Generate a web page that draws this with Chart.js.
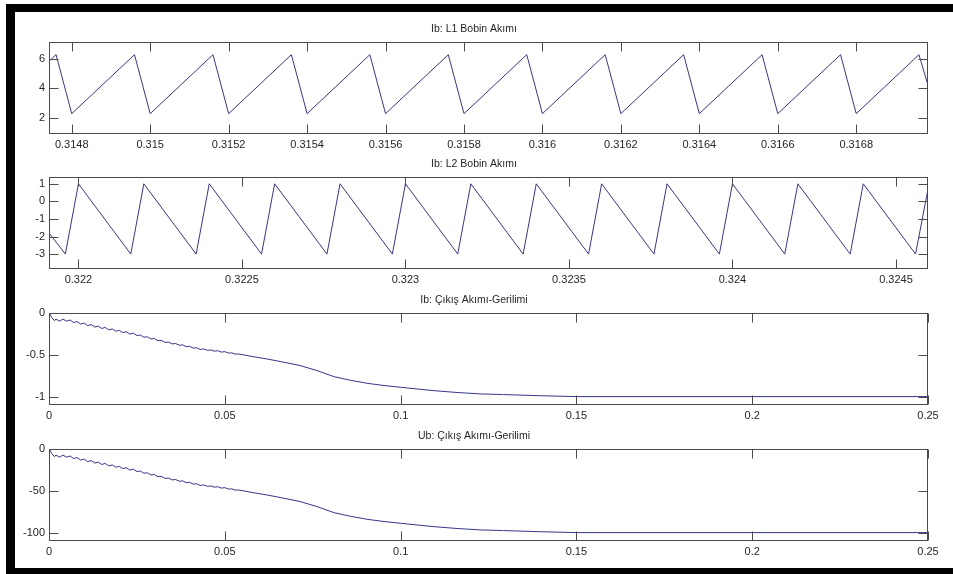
<!DOCTYPE html>
<html>
<head>
<meta charset="utf-8">
<script src="https://cdn.jsdelivr.net/npm/chart.js@4/dist/chart.umd.min.js"></script>
<style>
  html, body { margin: 0; padding: 0; background: #fff; overflow: hidden; }
  body { width: 953px; height: 574px; position: relative; }
  .frame { position: absolute; background: #000; }
  .plot { position: absolute; left: 20px; width: 937px; height: 133px; }
</style>
</head>
<body>
<div class="frame" style="left:6px;top:4px;width:947px;height:8px"></div>
<div class="frame" style="left:6px;top:4px;width:9px;height:570px"></div>
<div class="frame" style="left:6px;top:568px;width:947px;height:6px"></div>

<div class="plot" style="top:21px"><canvas id="c1" width="937" height="133"></canvas></div>
<div class="plot" style="top:156px"><canvas id="c2" width="937" height="133"></canvas></div>
<div class="plot" style="top:292px"><canvas id="c3" width="937" height="133"></canvas></div>
<div class="plot" style="top:428px"><canvas id="c4" width="937" height="133"></canvas></div>

<script>
// L1 coil current: sawtooth vertices (time in s, current in A)
const l1Time = [0.314742, 0.31476, 0.3148, 0.31496, 0.315, 0.31516, 0.3152, 0.31536, 0.3154,
  0.31556, 0.3156, 0.31576, 0.3158, 0.31596, 0.316, 0.31616, 0.3162, 0.31636, 0.3164,
  0.31656, 0.3166, 0.31676, 0.3168, 0.31696, 0.316983];
const l1Current = [5.82, 6.27, 2.3, 6.27, 2.3, 6.27, 2.3, 6.27, 2.3,
  6.27, 2.3, 6.27, 2.3, 6.27, 2.3, 6.27, 2.3, 6.27, 2.3,
  6.27, 2.3, 6.27, 2.3, 6.27, 4.2];

// L2 coil current
const l2Time = [0.32191, 0.32196, 0.322, 0.32216, 0.3222, 0.32236, 0.3224, 0.32256, 0.3226,
  0.32276, 0.3228, 0.32296, 0.323, 0.32316, 0.3232, 0.32336, 0.3234, 0.32356, 0.3236,
  0.32376, 0.3238, 0.32396, 0.324, 0.32416, 0.3242, 0.32436, 0.3244, 0.32456, 0.324598];
const l2Current = [-1.8, -3, 1, -3, 1, -3, 1, -3, 1,
  -3, 1, -3, 1, -3, 1, -3, 1, -3, 1,
  -3, 1, -3, 1, -3, 1, -3, 1, -3, 0.7];

// Output current and voltage over the start-up transient
const outTime = [0, 0.0008, 0.0015,
  0.002, 0.003, 0.004, 0.005, 0.006, 0.007, 0.008, 0.009, 0.010, 0.011,
  0.012, 0.013, 0.014, 0.015, 0.016, 0.017, 0.018, 0.019, 0.020, 0.021,
  0.022, 0.023, 0.024, 0.025, 0.026, 0.027, 0.028, 0.029, 0.030, 0.031,
  0.032, 0.033, 0.034, 0.035, 0.036, 0.037, 0.038, 0.039, 0.040, 0.041,
  0.042, 0.043, 0.044, 0.045, 0.046, 0.047, 0.048, 0.049, 0.050, 0.051,
  0.052, 0.053, 0.054,
  0.058, 0.062, 0.0667, 0.0714, 0.0762, 0.081, 0.0857, 0.0904, 0.095, 0.1,
  0.1094, 0.116, 0.1227, 0.1293, 0.14, 0.15, 0.25];
const outCurrent = [0, -0.06, -0.095,
  -0.078, -0.102, -0.078, -0.102, -0.088, -0.119, -0.106, -0.137, -0.124, -0.155,
  -0.143, -0.172, -0.161, -0.189, -0.177, -0.206, -0.195, -0.221, -0.212, -0.238,
  -0.228, -0.255, -0.245, -0.273, -0.267, -0.293, -0.288, -0.314, -0.309, -0.335,
  -0.330, -0.355, -0.350, -0.373, -0.367, -0.389, -0.384, -0.405, -0.402, -0.422,
  -0.419, -0.439, -0.432, -0.449, -0.444, -0.459, -0.454, -0.470, -0.465, -0.481,
  -0.480, -0.494, -0.493,
  -0.524, -0.552, -0.59, -0.63, -0.69, -0.762, -0.805, -0.841, -0.867, -0.889,
  -0.929, -0.951, -0.968, -0.976, -0.99, -1.0, -1.0];
const outVoltage = [0, -6, -9.5,
  -7.8, -10.2, -7.8, -10.2, -8.8, -11.9, -10.6, -13.7, -12.4, -15.5,
  -14.3, -17.2, -16.1, -18.9, -17.7, -20.6, -19.5, -22.1, -21.2, -23.8,
  -22.8, -25.5, -24.5, -27.3, -26.7, -29.3, -28.8, -31.4, -30.9, -33.5,
  -33.0, -35.5, -35.0, -37.3, -36.7, -38.9, -38.4, -40.5, -40.2, -42.2,
  -41.9, -43.9, -43.2, -44.9, -44.4, -45.9, -45.4, -47.0, -46.5, -48.1,
  -48.0, -49.4, -49.3,
  -52.4, -55.2, -59, -63, -69, -76.2, -80.5, -84.1, -86.7, -88.9,
  -92.9, -95.1, -96.8, -97.6, -99, -100, -100];

// Axis ticks
const l1XTicks = [0.3148, 0.315, 0.3152, 0.3154, 0.3156, 0.3158, 0.316, 0.3162, 0.3164, 0.3166, 0.3168];
const l1YTicks = [2, 4, 6];
const l2XTicks = [0.322, 0.3225, 0.323, 0.3235, 0.324, 0.3245];
const l2YTicks = [-3, -2, -1, 0, 1];
const outXTicks = [0, 0.05, 0.1, 0.15, 0.2, 0.25];
const currentYTicks = [-1, -0.5, 0];
const voltageYTicks = [-100, -50, 0];

const titles = ['Ib: L1 Bobin Akımı', 'Ib: L2 Bobin Akımı', 'Ib: Çıkış Akımı-Gerilimi', 'Ub: Çıkış Akımı-Gerilimi'];

const LINE = '#36368e';
const AXIS = '#4a4a4a';
const TEXT = '#262626';
const FONT = 'Liberation Sans, Arial, sans-serif';

// MATLAB-style axes box with inward tick marks on all four sides
const boxTicks = {
  id: 'boxTicks',
  afterDatasetsDraw(chart) {
    const { ctx, chartArea: a, scales } = chart;
    const L = Math.round(a.left) + 0.5, R = Math.round(a.right) - 0.5;
    const T = Math.round(a.top) + 0.5, B = Math.round(a.bottom) - 0.5;
    const len = 9;
    ctx.save();
    ctx.strokeStyle = AXIS;
    ctx.lineWidth = 1;
    ctx.beginPath();
    scales.x.ticks.forEach(t => {
      const px = Math.round(scales.x.getPixelForValue(t.value)) + 0.5;
      ctx.moveTo(px, T); ctx.lineTo(px, T + len);
      ctx.moveTo(px, B); ctx.lineTo(px, B - len);
    });
    scales.y.ticks.forEach(t => {
      const py = Math.round(scales.y.getPixelForValue(t.value)) + 0.5;
      ctx.moveTo(L, py); ctx.lineTo(L + len, py);
      ctx.moveTo(R, py); ctx.lineTo(R - len, py);
    });
    ctx.stroke();
    ctx.strokeRect(L, T, R - L, B - T);
    ctx.restore();
  }
};

function makePlot(id, title, xs, ys, xr, yr, xTicks, yTicks) {
  const pts = xs.map((x, i) => ({ x, y: ys[i] }));
  new Chart(document.getElementById(id), {
    type: 'line',
    data: { datasets: [{ data: pts, borderColor: LINE, borderWidth: 1, pointRadius: 0, tension: 0, fill: false }] },
    options: {
      responsive: false,
      animation: false,
      events: [],
      layout: { padding: { left: 0, right: 29, top: 0, bottom: 0 } },
      plugins: {
        legend: { display: false },
        tooltip: { enabled: false },
        title: {
          display: true, text: title, color: TEXT,
          font: { family: FONT, size: 10.5, weight: 'normal' },
          padding: { top: 2, bottom: 6 }
        }
      },
      scales: {
        x: {
          type: 'linear', min: xr[0], max: xr[1],
          grid: { display: false, drawTicks: false }, border: { display: false },
          afterBuildTicks: s => { s.ticks = xTicks.map(v => ({ value: v })); },
          afterFit: s => { s.height = 20; },
          ticks: { padding: 4, maxRotation: 0, autoSkip: false, color: TEXT,
                   font: { family: FONT, size: 11 }, callback: v => String(v) }
        },
        y: {
          type: 'linear', min: yr[0], max: yr[1],
          grid: { display: false, drawTicks: false }, border: { display: false },
          afterBuildTicks: s => { s.ticks = yTicks.map(v => ({ value: v })); },
          afterFit: s => { s.width = 29; },
          ticks: { padding: 4, autoSkip: false, color: TEXT,
                   font: { family: FONT, size: 11 }, callback: v => String(v) }
        }
      }
    },
    plugins: [boxTicks]
  });
}

makePlot('c1', titles[0], l1Time, l1Current, [0.314742, 0.316983], [0.93, 7.15], l1XTicks, l1YTicks);
makePlot('c2', titles[1], l2Time, l2Current, [0.32191, 0.324598], [-3.85, 1.41], l2XTicks, l2YTicks);
makePlot('c3', titles[2], outTime, outCurrent, [0, 0.25], [-1.1, 0], outXTicks, currentYTicks);
makePlot('c4', titles[3], outTime, outVoltage, [0, 0.25], [-110, 0], outXTicks, voltageYTicks);
</script>
</body>
</html>
